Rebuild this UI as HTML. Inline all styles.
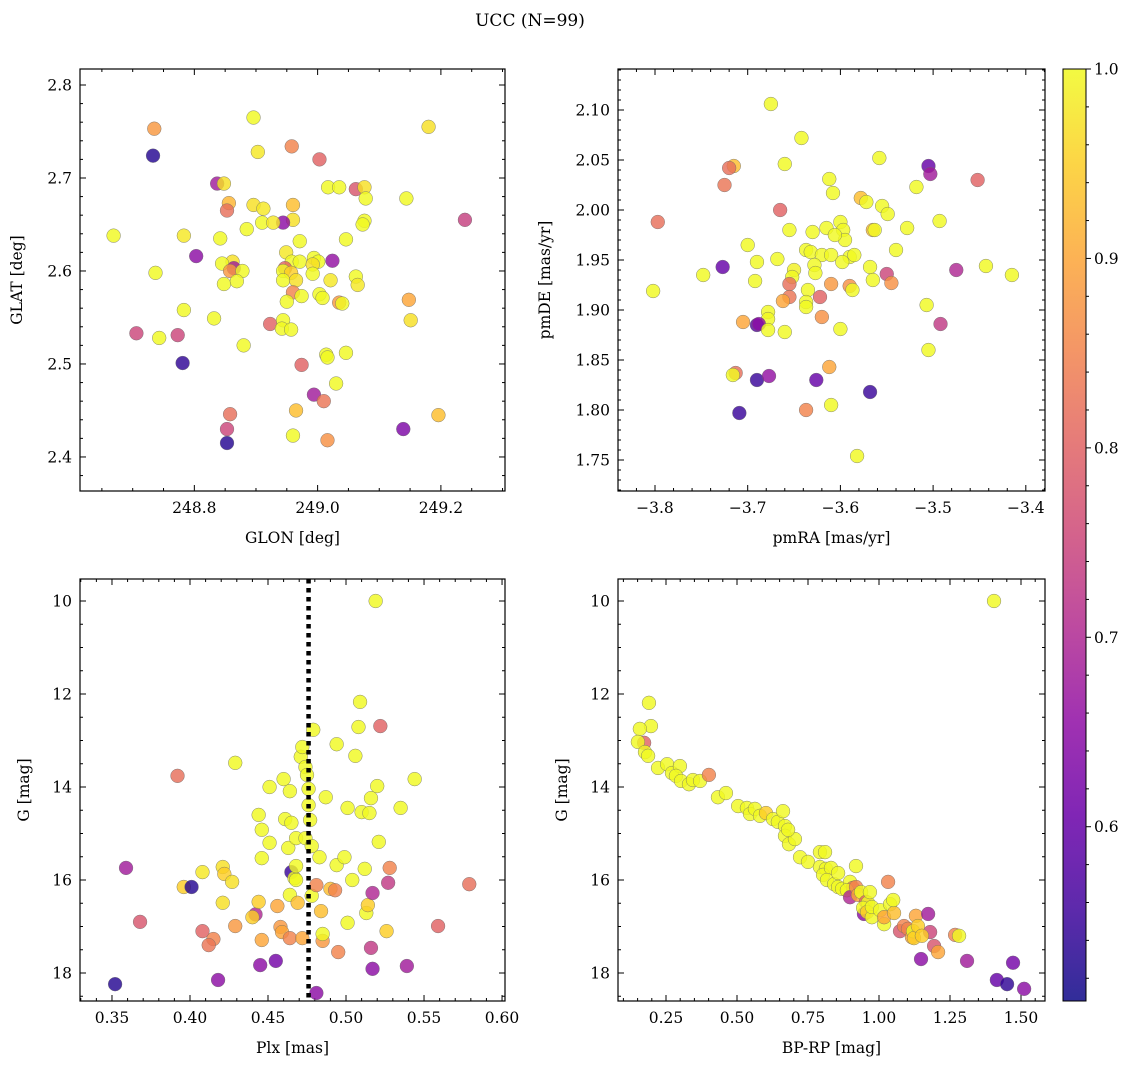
<!DOCTYPE html>
<html><head><meta charset="utf-8"><title>UCC (N=99)</title>
<style>
html,body{margin:0;padding:0;background:#fff;}
svg{display:block;font-family:"DejaVu Serif","Liberation Serif",serif;}
</style></head>
<body>
<svg id="fig" width="1136" height="1068" viewBox="0 0 1136 1068" xmlns="http://www.w3.org/2000/svg">
<defs>
<clipPath id="c1"><rect x="80" y="69" width="425" height="422"/></clipPath>
<clipPath id="c2"><rect x="618" y="69" width="427" height="422"/></clipPath>
<clipPath id="c3"><rect x="80" y="579" width="425" height="422"/></clipPath>
<clipPath id="c4"><rect x="618" y="579" width="427" height="422"/></clipPath>
<linearGradient id="cbgrad" x1="0" y1="1" x2="0" y2="0"></linearGradient>
</defs>
<text x="530" y="26" text-anchor="middle" font-size="17">UCC (N=99)</text>
</svg>
<script>
// ---------- data ----------
const glon = [248.735,248.733,248.896,248.958,249.003,249.180,248.903,248.837,248.848,249.017,249.035,249.062,249.076,249.078,249.144,248.856,248.853,248.896,248.912,248.960,248.960,248.944,248.910,248.928,249.076,249.073,249.239,248.669,248.783,248.842,248.885,248.971,249.046,248.803,248.949,248.994,249.001,249.024,248.862,248.845,248.958,248.971,248.992,248.737,248.864,248.858,248.878,248.947,248.944,248.957,248.992,249.062,249.021,248.848,248.869,248.944,248.965,249.065,248.960,248.974,249.003,249.008,249.035,249.040,248.950,249.148,248.783,248.832,248.923,248.944,249.151,248.942,248.957,248.706,248.743,248.773,248.880,249.046,249.014,249.016,248.974,248.781,249.030,248.994,249.010,248.965,248.858,249.196,248.853,249.139,248.960,249.016,248.853];
const glat = [2.753,2.724,2.765,2.734,2.720,2.755,2.728,2.694,2.694,2.690,2.690,2.688,2.690,2.678,2.678,2.673,2.665,2.671,2.667,2.671,2.655,2.652,2.652,2.652,2.654,2.650,2.655,2.638,2.638,2.635,2.645,2.632,2.634,2.616,2.620,2.614,2.610,2.611,2.610,2.608,2.610,2.610,2.607,2.598,2.603,2.600,2.600,2.603,2.600,2.598,2.597,2.594,2.590,2.586,2.589,2.590,2.590,2.585,2.577,2.573,2.575,2.571,2.566,2.565,2.567,2.569,2.558,2.549,2.543,2.547,2.547,2.538,2.537,2.533,2.528,2.531,2.520,2.512,2.510,2.507,2.499,2.501,2.479,2.467,2.460,2.450,2.446,2.445,2.430,2.430,2.423,2.418,2.415];
const prob1 = [0.88,0.53,1.0,0.85,0.8,0.97,0.98,0.68,0.97,1.0,1.0,0.78,0.97,1.0,1.0,0.92,0.82,0.97,0.98,0.93,0.97,0.65,1.0,0.98,1.0,1.0,0.74,1.0,0.98,1.0,1.0,1.0,1.0,0.65,0.98,1.0,1.0,0.66,0.97,1.0,1.0,1.0,0.97,1.0,0.68,0.88,1.0,0.8,1.0,0.95,1.0,1.0,0.98,1.0,1.0,1.0,0.97,0.98,0.85,1.0,1.0,1.0,0.88,1.0,1.0,0.9,1.0,1.0,0.8,1.0,0.97,1.0,1.0,0.75,1.0,0.75,1.0,1.0,1.0,1.0,0.8,0.54,1.0,0.68,0.83,0.93,0.82,0.93,0.75,0.63,1.0,0.87,0.53];

const pmra = [-3.675,-3.642,-3.660,-3.715,-3.720,-3.725,-3.558,-3.505,-3.503,-3.452,-3.612,-3.518,-3.608,-3.578,-3.572,-3.555,-3.549,-3.797,-3.665,-3.600,-3.493,-3.528,-3.615,-3.655,-3.630,-3.597,-3.565,-3.563,-3.595,-3.606,-3.700,-3.637,-3.632,-3.620,-3.610,-3.590,-3.585,-3.598,-3.540,-3.727,-3.690,-3.668,-3.650,-3.628,-3.627,-3.568,-3.550,-3.565,-3.475,-3.443,-3.415,-3.748,-3.652,-3.655,-3.610,-3.590,-3.587,-3.545,-3.692,-3.802,-3.635,-3.655,-3.622,-3.637,-3.662,-3.637,-3.620,-3.507,-3.678,-3.678,-3.705,-3.690,-3.688,-3.678,-3.660,-3.600,-3.492,-3.505,-3.612,-3.713,-3.716,-3.690,-3.677,-3.626,-3.568,-3.709,-3.637,-3.610,-3.582];
const pmde = [2.106,2.072,2.046,2.044,2.042,2.025,2.052,2.044,2.036,2.030,2.031,2.023,2.017,2.012,2.008,2.004,1.996,1.988,2.000,1.988,1.989,1.982,1.982,1.980,1.978,1.980,1.980,1.980,1.970,1.975,1.965,1.960,1.958,1.955,1.955,1.953,1.955,1.948,1.960,1.943,1.948,1.951,1.940,1.945,1.937,1.943,1.936,1.930,1.940,1.944,1.935,1.935,1.933,1.926,1.926,1.924,1.920,1.927,1.929,1.919,1.920,1.913,1.913,1.908,1.909,1.903,1.893,1.905,1.898,1.891,1.888,1.885,1.886,1.880,1.878,1.881,1.886,1.860,1.843,1.837,1.835,1.830,1.834,1.830,1.818,1.797,1.800,1.805,1.754];
const prob2 = [1.0,1.0,1.0,0.93,0.82,0.83,1.0,0.6,0.68,0.8,1.0,1.0,1.0,0.93,1.0,1.0,1.0,0.82,0.8,1.0,1.0,1.0,1.0,1.0,1.0,1.0,0.93,1.0,1.0,1.0,1.0,1.0,1.0,1.0,1.0,1.0,1.0,1.0,1.0,0.6,1.0,1.0,0.99,1.0,1.0,1.0,0.75,1.0,0.7,1.0,1.0,1.0,1.0,0.82,0.88,0.87,1.0,0.87,1.0,1.0,1.0,0.83,0.8,1.0,0.9,1.0,0.87,1.0,1.0,1.0,0.9,0.58,0.65,1.0,1.0,1.0,0.73,1.0,0.9,0.82,1.0,0.55,0.66,0.6,0.55,0.55,0.85,1.0,1.0];

const plx = [0.352,0.359,0.368,0.392,0.396,0.401,0.408,0.408,0.415,0.412,0.418,0.421,0.422,0.427,0.421,0.429,0.429,0.442,0.440,0.446,0.445,0.446,0.444,0.456,0.455,0.458,0.459,0.464,0.451,0.460,0.464,0.444,0.446,0.451,0.461,0.465,0.463,0.468,0.465,0.467,0.468,0.464,0.468,0.469,0.472,0.471,0.472,0.474,0.475,0.476,0.476,0.474,0.477,0.478,0.479,0.478,0.481,0.481,0.483,0.484,0.485,0.485,0.487,0.490,0.494,0.493,0.494,0.495,0.499,0.501,0.501,0.504,0.506,0.508,0.509,0.510,0.512,0.513,0.514,0.515,0.516,0.517,0.519,0.521,0.522,0.517,0.516,0.520,0.526,0.528,0.527,0.535,0.544,0.539,0.559,0.579];
const gmag3 = [18.24,15.74,16.90,13.76,16.15,16.15,15.83,17.10,17.27,17.40,18.15,15.72,15.87,16.04,16.49,16.99,13.48,16.74,16.80,17.29,17.83,15.53,16.47,16.56,17.74,17.01,17.12,17.25,14.00,13.83,14.09,14.60,14.92,15.20,14.69,14.77,15.31,15.10,15.83,15.96,15.70,16.32,16.00,16.49,17.25,13.35,13.14,13.57,13.74,14.04,14.39,15.10,14.71,15.27,12.77,16.34,16.11,18.43,15.51,16.67,17.31,17.16,14.22,16.19,15.68,16.22,13.08,17.55,15.51,14.45,16.92,16.00,13.33,12.71,12.17,14.54,15.76,16.71,16.54,14.56,14.24,16.28,10.0,15.18,12.69,17.91,17.46,13.98,17.10,15.74,16.06,14.45,13.83,17.85,16.99,16.09];
const prob3 = [0.53,0.68,0.78,0.82,0.95,0.53,0.98,0.8,0.85,0.83,0.65,0.97,0.95,0.97,0.97,0.88,1.0,0.7,0.95,0.9,0.65,1.0,0.95,0.9,0.62,0.88,0.9,0.85,1.0,1.0,1.0,1.0,1.0,1.0,1.0,1.0,1.0,1.0,0.55,1.0,1.0,1.0,1.0,0.93,0.9,1.0,1.0,1.0,1.0,1.0,1.0,1.0,1.0,1.0,1.0,1.0,0.85,0.65,1.0,0.93,0.88,1.0,1.0,0.93,1.0,0.85,1.0,0.85,1.0,1.0,1.0,1.0,1.0,1.0,1.0,1.0,1.0,1.0,0.95,1.0,1.0,0.7,1.0,1.0,0.8,0.65,0.73,1.0,0.95,0.85,0.73,1.0,1.0,0.68,0.8,0.82];
const plxRef = [0.476];

const bprp = [1.405,0.190,0.197,0.158,0.173,0.151,0.176,0.187,0.222,0.254,0.271,0.299,0.285,0.303,0.331,0.345,0.370,0.401,0.433,0.461,0.504,0.535,0.546,0.563,0.581,0.602,0.627,0.644,0.669,0.662,0.669,0.683,0.704,0.722,0.750,0.792,0.792,0.813,0.803,0.831,0.817,0.842,0.856,0.856,0.870,0.898,0.908,0.887,0.919,0.898,0.919,0.926,0.937,0.954,0.947,0.961,0.944,0.968,0.958,0.975,0.975,1.004,1.018,1.018,1.032,1.039,1.053,1.074,1.088,1.102,1.116,1.120,1.123,1.130,1.137,1.148,1.180,1.194,1.208,1.268,1.282,1.310,1.173,1.415,1.451,1.472,1.511,1.151,0.810,0.680,1.050];
const gmag4 = [10.0,12.19,12.69,12.75,13.05,13.03,13.25,13.33,13.59,13.51,13.70,13.55,13.76,13.87,13.94,13.85,13.87,13.74,14.22,14.13,14.41,14.45,14.58,14.47,14.62,14.56,14.69,14.75,14.84,14.52,15.05,15.23,15.12,15.51,15.61,15.40,15.72,15.76,15.89,15.74,16.00,16.09,15.85,16.15,16.19,16.04,16.17,16.22,15.70,16.37,16.15,16.32,16.26,16.47,16.73,16.49,16.60,16.26,16.69,16.80,16.58,16.65,16.95,16.80,16.04,16.52,16.71,17.10,16.99,17.05,17.23,17.10,17.25,16.77,16.99,17.70,17.12,17.42,17.55,17.18,17.20,17.74,16.73,18.15,18.24,17.78,18.34,17.20,15.40,14.92,16.43];
const prob4 = [1,1,1,1,0.8,1,1,1,1,1,1,1,1,1,1,1,1,0.85,1,1,1,1,1,1,1,0.95,1,1,1,1,1,1,1,1,1,1,1,1,1,1,1,1,1,1,1,1,0.85,1,1,0.7,0.85,0.9,1,0.8,0.65,1,1,1,0.95,1,1,1,1,0.9,0.85,1,0.93,0.78,0.85,0.85,0.9,1,0.95,0.9,0.95,0.65,0.75,0.78,0.9,0.85,1,0.68,0.68,0.6,0.54,0.62,0.65,0.95,1,1,1];

const cbTicks = [0.6,0.7,0.8,0.9,1.0];
const pMin = 0.508, pMax = 1.0;

// ---------- helpers ----------
const NS = "http://www.w3.org/2000/svg";
const svg = document.getElementById('fig');
function mk(tag, attrs, parent){
  const e = document.createElementNS(NS, tag);
  for (const k in attrs) e.setAttribute(k, attrs[k]);
  (parent||svg).appendChild(e);
  return e;
}
const stops = ["#0d0887","#41049d","#6a00a8","#8f0da4","#b12a90","#cc4778","#e16462","#f2844b","#fca636","#fcce25","#f0f921"];
function hex2rgb(h){return [parseInt(h.substr(1,2),16),parseInt(h.substr(3,2),16),parseInt(h.substr(5,2),16)];}
function plasma(t){
  t=Math.max(0,Math.min(1,t));
  const f=t*10, i=Math.min(9,Math.floor(f)), r=f-i;
  const a=hex2rgb(stops[i]), b=hex2rgb(stops[i+1]);
  return "rgb("+a.map((v,k)=>Math.round(v+(b[k]-v)*r)).join(",")+")";
}
function pcol(p){return plasma((p-pMin)/(pMax-pMin));}
function fmt(v,dec){return v.toFixed(dec).replace("-","\u2212");}
const TFS = 15.5, LFS = 15.5;

function makeAxes(cfg){
  const {x0,y0,w,h,xd,yd,yInv} = cfg;
  const sx = v => x0 + (v-xd[0])/(xd[1]-xd[0])*w;
  const sy = yInv ? (v => y0 + (v-yd[0])/(yd[1]-yd[0])*h) : (v => y0 + h - (v-yd[0])/(yd[1]-yd[0])*h);
  const g = mk('g',{});
  
  
  const tg = mk('g',{stroke:'#000','stroke-width':1},g);
  
  
  const eps=1e-9;
  const xs = Math.ceil((xd[0])/cfg.xMinor-eps);
  for(let k=xs; k*cfg.xMinor<=xd[1]+eps; k++){
    const v=k*cfg.xMinor; const px=sx(v);
    const major = Math.abs(v/cfg.xMajor - Math.round(v/cfg.xMajor))<1e-6;
    const L = major?6:3;
    mk('line',{x1:px,x2:px,y1:y0+h,y2:y0+h-L},tg);
    mk('line',{x1:px,x2:px,y1:y0,y2:y0+L},tg);
    if(major){
      const t=mk('text',{x:px,y:y0+h+22,'text-anchor':'middle','font-size':TFS,stroke:'none',fill:'#000'},g);
      t.textContent=fmt(v,cfg.xDec);
      
      
    }
  }
  const ys = Math.ceil((Math.min(yd[0],yd[1]))/cfg.yMinor-eps);
  const yMaxV = Math.max(yd[0],yd[1]);
  for(let k=ys; k*cfg.yMinor<=yMaxV+eps; k++){
    const v=k*cfg.yMinor; const py=sy(v);
    const major = Math.abs(v/cfg.yMajor - Math.round(v/cfg.yMajor))<1e-6;
    const L = major?6:3;
    mk('line',{x1:x0,x2:x0+L,y1:py,y2:py},tg);
    mk('line',{x1:x0+w,x2:x0+w-L,y1:py,y2:py},tg);
    if(major){
      const t=mk('text',{x:x0-8,y:py+5.5,'text-anchor':'end','font-size':TFS,fill:'#000'},g);
      t.textContent=fmt(v,cfg.yDec);
      
      
    }
  }
  const xl=mk('text',{x:x0+w/2,y:y0+h+52,'text-anchor':'middle','font-size':LFS,fill:'#000'},g);
  xl.textContent=cfg.xlabel;
  
  
  const yl=mk('text',{x:0,y:0,'text-anchor':'middle','font-size':LFS,fill:'#000',transform:'translate('+cfg.ylx+','+(y0+h/2)+') rotate(-90)'},g);
  yl.textContent=cfg.ylabel;
  
  
  return {sx,sy,g};
}
function scatter(ax, xs, ys, ps, clip, name){
  const g = mk('g',{'clip-path':'url(#'+clip+')'}, ax.g);
  
  
  for(let i=0;i<xs.length;i++){
    const c = mk('circle',{cx:ax.sx(xs[i]),cy:ax.sy(ys[i]),r:6.9,fill:pcol(ps[i]),'fill-opacity':0.82,stroke:'#6a6a6a','stroke-width':0.5,'stroke-opacity':0.8},g);
    
    
  }
}
function frame(ax,x0,y0,w,h,name){
  const r=mk('rect',{x:x0,y:y0,width:w,height:h,fill:'none',stroke:'#000','stroke-width':1.2},ax.g);
  
  
}

// ---------- panels ----------
const a1 = makeAxes({name:'glon-glat-panel',x0:80,y0:69,w:425,h:422,xd:[248.6145,249.304],yd:[2.3634,2.8172],xMajor:0.2,xMinor:0.05,yMajor:0.1,yMinor:0.02,xDec:1,yDec:1,xlabel:'GLON [deg]',ylabel:'GLAT [deg]',ylx:22});
scatter(a1,glon,glat,prob1,'c1','glon-glat');
frame(a1,80,69,425,422,'glon-glat');

const a2 = makeAxes({name:'pm-panel',x0:618,y0:69,w:427,h:422,xd:[-3.8399,-3.3793],yd:[1.719,2.141],xMajor:0.1,xMinor:0.02,yMajor:0.05,yMinor:0.01,xDec:1,yDec:2,xlabel:'pmRA [mas/yr]',ylabel:'pmDE [mas/yr]',ylx:550});
scatter(a2,pmra,pmde,prob2,'c2','pm');
frame(a2,618,69,427,422,'pm');

const a3 = makeAxes({name:'plx-g-panel',x0:80,y0:579,w:425,h:422,xd:[0.3295,0.6019],yd:[9.527,18.602],yInv:true,xMajor:0.05,xMinor:0.01,yMajor:2,yMinor:0.5,xDec:2,yDec:0,xlabel:'Plx [mas]',ylabel:'G [mag]',ylx:29});
scatter(a3,plx,gmag3,prob3,'c3','plx-g');
{
  const px=a3.sx(plxRef[0]);
  const l=mk('line',{x1:px,x2:px,y1:579,y2:1001,stroke:'#000','stroke-width':4.5,'stroke-dasharray':'4.5,4.5'},a3.g);
  
  
}
frame(a3,80,579,425,422,'plx-g');

const a4 = makeAxes({name:'cmd-panel',x0:618,y0:579,w:427,h:422,xd:[0.081,1.5845],yd:[9.527,18.602],yInv:true,xMajor:0.25,xMinor:0.05,yMajor:2,yMinor:0.5,xDec:2,yDec:0,xlabel:'BP-RP [mag]',ylabel:'G [mag]',ylx:567});
scatter(a4,bprp,gmag4,prob4,'c4','cmd');
frame(a4,618,579,427,422,'cmd');

// ---------- colorbar ----------
const grad = document.getElementById('cbgrad');
for(let i=0;i<=20;i++){
  const t=i/20;
  mk('stop',{offset:t,'stop-color':plasma(t),'stop-opacity':0.85},grad);
}
const cbg = mk('g',{});


const cbY0=69, cbY1=1001, cbX=1063, cbW=23;
mk('rect',{x:cbX,y:cbY0,width:cbW,height:cbY1-cbY0,fill:'url(#cbgrad)',stroke:'#000','stroke-width':1},cbg);
const cby = v => cbY1 - (v-pMin)/(pMax-pMin)*(cbY1-cbY0);
for(let k=Math.ceil(pMin/0.02-1e-9); k*0.02<=pMax+1e-9; k++){
  const v=k*0.02, py=cby(v);
  const major = Math.abs(v*10-Math.round(v*10))<1e-6;
  mk('line',{x1:cbX+cbW,x2:cbX+cbW+(major?5:3),y1:py,y2:py,stroke:'#000','stroke-width':1},cbg);
}
for(const v of cbTicks){
  const t=mk('text',{x:cbX+cbW+8,y:cby(v)+5.5,'font-size':TFS,fill:'#000'},cbg);
  t.textContent=v.toFixed(1);
  
  
}
</script>
</body></html>
